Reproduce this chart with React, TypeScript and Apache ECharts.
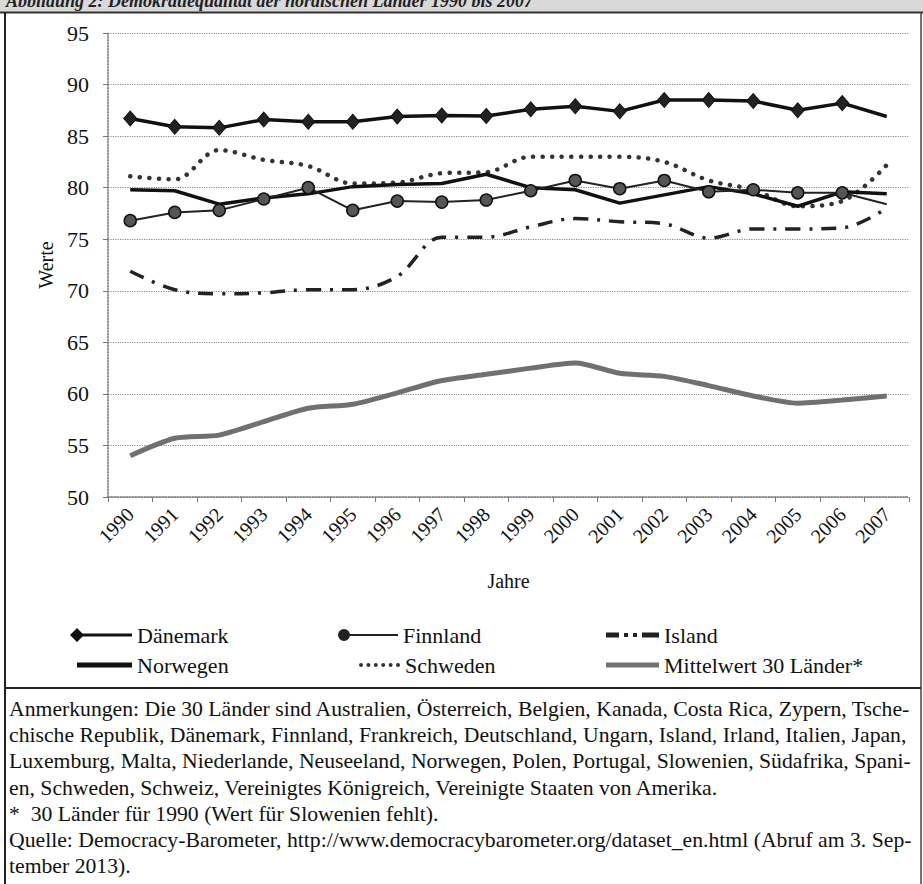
import React, { useEffect, useRef } from "react";
import * as echarts from "echarts";

const FONT = '"Liberation Serif", "DejaVu Serif", serif';

const years = ["1990", "1991", "1992", "1993", "1994", "1995", "1996", "1997", "1998", "1999", "2000", "2001", "2002", "2003", "2004", "2005", "2006", "2007"];

const daenemark = [86.7, 85.9, 85.8, 86.6, 86.4, 86.4, 86.9, 87.0, 86.95, 87.6, 87.9, 87.4, 88.5, 88.5, 88.4, 87.5, 88.2, 86.9];
const finnland = [76.8, 77.6, 77.8, 78.9, 80.0, 77.8, 78.7, 78.6, 78.8, 79.7, 80.7, 79.9, 80.7, 79.6, 79.8, 79.5, 79.5, 78.4];
const island = [71.9, 70.1, 69.7, 69.8, 70.1, 70.1, 71.4, 75.2, 75.2, 76.2, 77.0, 76.7, 76.5, 75.1, 76.0, 76.0, 76.1, 78.0];
const norwegen = [79.8, 79.7, 78.4, 79.0, 79.4, 80.1, 80.3, 80.4, 81.3, 80.0, 79.8, 78.5, 79.3, 80.1, 79.4, 78.2, 79.6, 79.4];
const schweden = [81.1, 80.8, 83.65, 82.7, 82.1, 80.4, 80.5, 81.4, 81.5, 83.0, 83.0, 83.0, 82.5, 80.7, 79.8, 78.2, 78.7, 82.2];
const mittelwert = [54.0, 55.7, 56.0, 57.3, 58.6, 59.0, 60.1, 61.3, 61.9, 62.5, 63.0, 62.0, 61.7, 60.8, 59.8, 59.1, 59.4, 59.8];

const yMin = 50;
const yMax = 95;
const yStep = 5;

const titleText = "Abbildung 2: Demokratiequalität der nordischen Länder 1990 bis 2007";
const xAxisName = "Jahre";
const yAxisName = "Werte";

const noteLines = [
  "Anmerkungen: Die 30 Länder sind Australien, Österreich, Belgien, Kanada, Costa Rica, Zypern, Tsche-",
  "chische Republik, Dänemark, Finnland, Frankreich, Deutschland, Ungarn, Island, Irland, Italien, Japan,",
  "Luxemburg, Malta, Niederlande, Neuseeland, Norwegen, Polen, Portugal, Slowenien, Südafrika, Spani-",
  "en, Schweden, Schweiz, Vereinigtes Königreich, Vereinigte Staaten von Amerika.",
  "*  30 Länder für 1990 (Wert für Slowenien fehlt).",
  "Quelle: Democracy-Barometer, http://www.democracybarometer.org/dataset_en.html (Abruf am 3. Sep-",
  "tember 2013).",
];

const noLastSymbol = (arr: number[]) =>
  arr.map((v, i) => (i === arr.length - 1 ? { value: v, symbol: "none" } : v));

// legend icons
const iconDiamond = "path://M0,7L7,0L14,7L7,14Z M12,5.5L62,5.5L62,8.5L12,8.5Z";
const iconCircle = "path://M0,6A6,6,0,1,1,12,6A6,6,0,1,1,0,6Z M10,5L60,5L60,7L10,7Z";
const iconDots = (() => {
  let d = "path://";
  for (let i = 0; i < 6; i++) {
    const cx = 2 + i * 7.4;
    d += `M${cx - 2},2A2,2,0,1,1,${cx + 2},2A2,2,0,1,1,${cx - 2},2Z `;
  }
  return d;
})();
const iconDashDot = "path://M0,0L13,0L13,5L0,5Z M18,0.5L22,0.5L22,4.5L18,4.5Z M27,0.5L31,0.5L31,4.5L27,4.5Z M36,0L53,0L53,5L36,5Z";

export default function App() {
  const ref = useRef<HTMLDivElement>(null);

  useEffect(() => {
    if (!ref.current) return;
    const chart = echarts.init(ref.current, undefined, { renderer: "svg" });

    const legendText = { fontSize: 22, color: "#111", fontFamily: FONT, lineHeight: 24 };
    const mkLegend = (name: string, icon: string, left: number, top: number, w: number, h: number, color: string) => ({
      data: [{ name, icon, itemStyle: { color, borderWidth: 0 } }],
      left,
      top,
      itemWidth: w,
      itemHeight: h,
      selectedMode: false,
      textStyle: legendText,
      padding: 0,
    });

    const option: any = {
      animation: false,
      backgroundColor: "#ffffff",
      textStyle: { fontFamily: FONT },
      grid: { left: 108, right: 14, top: 33, bottom: 387, containLabel: false },
      legend: [
        mkLegend("Dänemark", iconDiamond, 70, 623, 62, 14, "#111"),
        mkLegend("Norwegen", "rect", 77, 653, 55, 5, "#111"),
        mkLegend("Finnland", iconCircle, 338, 623, 60, 12, "#222"),
        mkLegend("Schweden", iconDots, 359, 653, 41, 4, "#333"),
        mkLegend("Island", iconDashDot, 606, 623, 53, 5, "#222"),
        mkLegend("Mittelwert 30 Länder*", "rect", 606, 653, 53, 5, "#707070"),
      ],
      xAxis: {
        type: "category",
        data: years,
        boundaryGap: true,
        name: xAxisName,
        nameLocation: "middle",
        nameGap: 74,
        nameTextStyle: { fontSize: 20, color: "#111", fontFamily: FONT },
        axisLine: { lineStyle: { color: "#777", type: "dotted", width: 1.5 } },
        axisTick: { show: true, interval: 0, length: 5, lineStyle: { color: "#777" } },
        axisLabel: { rotate: 45, interval: 0, fontSize: 20, color: "#111", margin: 14, fontFamily: FONT },
        splitLine: { show: false },
      },
      yAxis: {
        type: "value",
        min: yMin,
        max: yMax,
        interval: yStep,
        name: yAxisName,
        nameLocation: "middle",
        nameGap: 52,
        nameRotate: 90,
        nameTextStyle: { fontSize: 20, color: "#111", fontFamily: FONT },
        axisLine: { show: true, lineStyle: { color: "#777", type: "dotted", width: 1.5 } },
        axisTick: { show: true, length: 5, lineStyle: { color: "#777" } },
        axisLabel: { fontSize: 22, color: "#111", margin: 19, fontFamily: FONT },
        splitLine: { lineStyle: { color: "#888", type: "dotted", width: 1.2 } },
      },
      series: [
        {
          name: "Mittelwert 30 Länder*",
          type: "line",
          data: mittelwert,
          symbol: "none",
          smooth: 0.25,
          lineStyle: { color: "#707070", width: 5 },
          itemStyle: { color: "#707070" },
          silent: true,
        },
        {
          name: "Island",
          type: "line",
          data: island,
          symbol: "none",
          smooth: 0.35,
          lineStyle: { color: "#222", width: 3.5, type: [15, 9, 3, 9] },
          itemStyle: { color: "#222" },
          silent: true,
        },
        {
          name: "Schweden",
          type: "line",
          data: schweden,
          symbol: "none",
          smooth: 0.35,
          lineStyle: { color: "#333", width: 4.5, type: [0.1, 9.5], cap: "round" },
          itemStyle: { color: "#333" },
          silent: true,
        },
        {
          name: "Norwegen",
          type: "line",
          data: norwegen,
          symbol: "none",
          lineStyle: { color: "#111", width: 3.5 },
          itemStyle: { color: "#111" },
          silent: true,
        },
        {
          name: "Finnland",
          type: "line",
          data: noLastSymbol(finnland),
          symbol: "circle",
          symbolSize: 12,
          showAllSymbol: true,
          lineStyle: { color: "#222", width: 2 },
          itemStyle: { color: "#555", borderColor: "#111", borderWidth: 1.5 },
          silent: true,
        },
        {
          name: "Dänemark",
          type: "line",
          data: noLastSymbol(daenemark),
          symbol: "diamond",
          symbolSize: [13, 15],
          showAllSymbol: true,
          lineStyle: { color: "#111", width: 3.5 },
          itemStyle: { color: "#222", borderColor: "#111", borderWidth: 1 },
          silent: true,
        },
      ],
      graphic: [
        { type: "rect", shape: { x: 0, y: 0, width: 923, height: 12 }, style: { fill: "#d9d9d9" }, z: -1 },
        {
          type: "text",
          x: 6,
          y: 10,
          style: { text: titleText, font: `italic bold 18px ${FONT}`, fill: "#222", verticalAlign: "bottom", align: "left" },
        },
        { type: "line", shape: { x1: 0, y1: 12.5, x2: 923, y2: 12.5 }, style: { stroke: "#333", lineWidth: 2 } },
        { type: "line", shape: { x1: 5, y1: 12, x2: 5, y2: 884 }, style: { stroke: "#222", lineWidth: 2 } },
        { type: "line", shape: { x1: 921, y1: 12, x2: 921, y2: 884 }, style: { stroke: "#444", lineWidth: 1.5 } },
        { type: "line", shape: { x1: 5, y1: 688, x2: 921, y2: 688 }, style: { stroke: "#222", lineWidth: 2 } },
        ...noteLines.map((t, i) => ({
          type: "text",
          x: 9,
          y: 709 + i * 26.2,
          style: { text: t, font: `21.7px ${FONT}`, fill: "#111", verticalAlign: "middle", align: "left" },
        })),
      ],
    };

    chart.setOption(option);
    return () => chart.dispose();
  }, []);

  return (
    <div
      ref={ref}
      style={{ position: "absolute", left: 0, top: 0, width: 923, height: 884, background: "#fff" }}
    />
  );
}
